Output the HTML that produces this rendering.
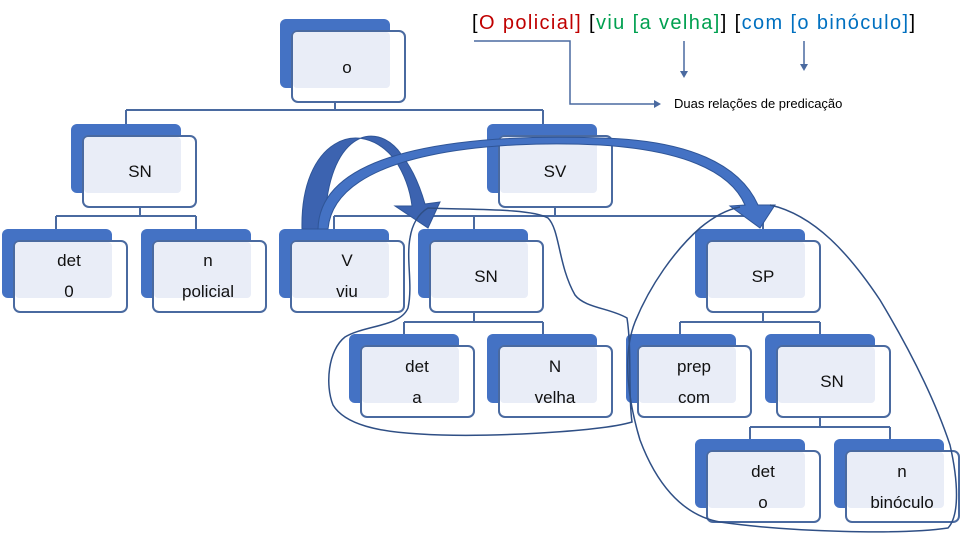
<!DOCTYPE html>
<html><head><meta charset="utf-8"><style>body{margin:0;background:#fff}svg{display:block}text{font-family:"Liberation Sans",sans-serif}</style></head><body>
<svg width="960" height="540" viewBox="0 0 960 540" xmlns="http://www.w3.org/2000/svg">
<g fill="none" stroke="#4a6aa0" stroke-width="2">
<path d="M335 101V110M126 110H543M126 110V124M543 110V124"/>
<path d="M140 207V216M56 216H196M56 216V229M196 216V229"/>
<path d="M555 207V216M334 216H763M334 216V229M474 216V229M763 216V229"/>
<path d="M474 312V322M404 322H543M404 322V334M543 322V334"/>
<path d="M763 312V322M680 322H820M680 322V334M820 322V334"/>
<path d="M820 416V427M750 427H890M750 427V439M890 427V439"/>
</g>
<defs><g id="n"><rect x="0" y="0" width="110" height="69" rx="6" fill="#4472c4"/><rect x="12" y="12" width="113" height="71" rx="6" fill="#fff" stroke="#4a6aa0" stroke-width="2"/><rect x="13" y="13" width="97" height="56" rx="4" fill="#e9edf7"/></g></defs>
<use href="#n" x="280" y="19"/>
<use href="#n" x="71" y="124"/>
<use href="#n" x="487" y="124"/>
<use href="#n" x="2" y="229"/>
<use href="#n" x="141" y="229"/>
<use href="#n" x="279" y="229"/>
<use href="#n" x="418" y="229"/>
<use href="#n" x="695" y="229"/>
<use href="#n" x="349" y="334"/>
<use href="#n" x="487" y="334"/>
<use href="#n" x="626" y="334"/>
<use href="#n" x="765" y="334"/>
<use href="#n" x="695" y="439"/>
<use href="#n" x="834" y="439"/>
<g font-size="17" fill="#111" text-anchor="middle">
<text x="347" y="73">o</text>
<text x="140" y="177">SN</text>
<text x="555" y="177">SV</text>
<text x="69" y="266">det</text><text x="69" y="297">0</text>
<text x="208" y="266">n</text><text x="208" y="297">policial</text>
<text x="347" y="266">V</text><text x="347" y="297">viu</text>
<text x="486" y="282">SN</text>
<text x="763" y="282">SP</text>
<text x="417" y="372">det</text><text x="417" y="403">a</text>
<text x="555" y="372">N</text><text x="555" y="403">velha</text>
<text x="694" y="372">prep</text><text x="694" y="403">com</text>
<text x="832" y="387">SN</text>
<text x="763" y="477">det</text><text x="763" y="508">o</text>
<text x="902" y="477">n</text><text x="902" y="508">binóculo</text>
</g>
<text x="472" y="29" font-size="20" fill="#000" textLength="443" lengthAdjust="spacing">[<tspan fill="#c00000">O policial]</tspan> [<tspan fill="#00a050">viu [a velha]</tspan>] [<tspan fill="#0070c0">com [o binóculo]</tspan>]</text>
<g fill="none" stroke="#4a6aa0" stroke-width="1.5">
<path d="M474 41H570V104H656"/>
<path d="M684 41V72M804 41V66"/>
</g>
<g fill="#4a6aa0"><path d="M661 104l-7-4v8z"/><path d="M684 78l-4-7h8z"/><path d="M804 71l-4-7h8z"/></g>
<text x="674" y="108" font-size="13" fill="#000">Duas relações de predicação</text>
<path d="M302 229C300 140 360 115 395 160C405 175 410 190 412 206L395 206L428 228L440 202L425 204C418 180 410 165 398 150C370 118 325 140 325 229Z" fill="#3c63b0" stroke="#2f5597" stroke-width="1"/>
<path d="M328 229C335 150 500 140 600 145C680 150 730 170 745 205L730 206L760 228L775 205L758 205C740 165 690 140 600 138C480 134 320 145 318 229Z" fill="#4472c4" stroke="#2f5597" stroke-width="1"/>
<g fill="none" stroke="#2f4f85" stroke-width="1.5">
<path d="M428 208C470 210 530 208 548 218C560 230 558 265 575 295C585 308 610 308 627 318C632 350 628 395 632 422C600 432 480 438 420 434C380 432 345 425 333 405C325 385 328 350 345 337C365 325 400 327 408 308C413 285 406 260 410 238C412 225 418 214 428 208Z"/>
<path d="M770 205C815 215 850 255 880 300C910 350 935 400 950 445C958 480 960 515 948 528C900 535 790 532 720 522C680 515 655 480 640 440C628 400 622 355 635 322C650 285 675 250 700 228C712 218 725 210 740 207"/>
</g>
</svg>
</body></html>
